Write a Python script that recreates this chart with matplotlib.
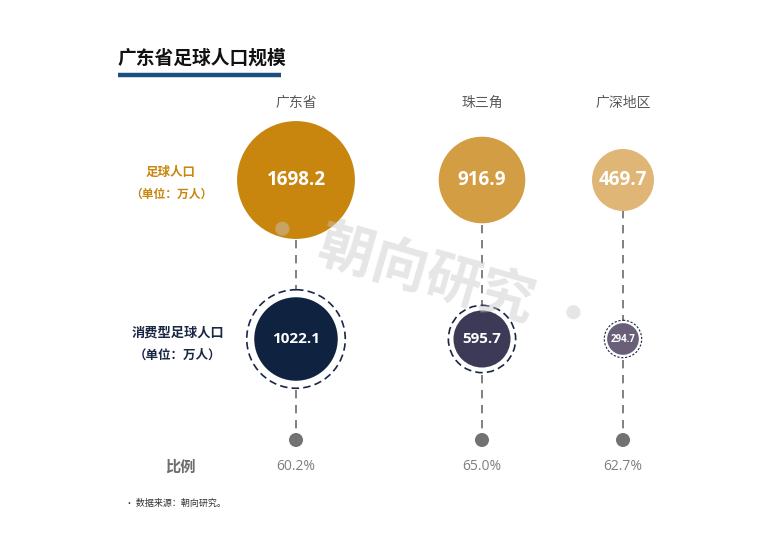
import matplotlib
matplotlib.use('Agg')
import matplotlib.pyplot as plt
from matplotlib.patches import Circle
import numpy as np

plt.rcParams['font.family'] = ['Noto Sans CJK SC', 'DejaVu Sans']

# data
regions = ['广东省', '珠三角', '广深地区']
football_pop = [1698.2, 916.9, 469.7]      # 足球人口 (万人)
consumer_pop = [1022.1, 595.7, 294.7]      # 消费型足球人口 (万人)
ratio = [c / f * 100 for c, f in zip(consumer_pop, football_pop)]

top_colors = ['#c8860f', '#d39e43', '#e0b676']
bot_colors = ['#0f2340', '#3d3a58', '#6a5f79']

# layout (pixel coords, y downward)
col_x = [296, 482, 623]
y_head = 103
y_top = 180
y_bot = 339
y_dot = 440
y_pct = 467

fig = plt.figure(figsize=(7.79, 5.52), dpi=100)
ax = fig.add_axes([0, 0, 1, 1])
ax.set_xlim(0, 779)
ax.set_ylim(552, 0)
ax.axis('off')

# title + underline
ax.text(118, 58, '广东省足球人口规模', fontsize=13.5, fontweight='bold',
        color='#111111', ha='left', va='center')
ax.plot([118, 281], [75, 75], color='#1b4f80', lw=3.2, solid_capstyle='butt')

for i, x in enumerate(col_x):
    r_top = 1.43 * np.sqrt(football_pop[i])
    r_bot = 1.75 * np.sqrt(consumer_pop[i]) - 14.2
    r_ring = 1.18 * r_bot

    # dashed connector
    ax.plot([x, x], [y_top, y_dot], color='#6b6b6b', lw=1.2,
            linestyle=(0, (5, 4)), zorder=1)

    ax.text(x, y_head, regions[i], fontsize=10, color='#595959',
            ha='center', va='center')

    ax.add_patch(Circle((x, y_top), r_top, facecolor=top_colors[i],
                        edgecolor='none', zorder=3))
    ax.text(x, y_top, f'{football_pop[i]:.1f}', family='Open Sans',
            fontsize=13.5, fontweight='bold', color='white',
            ha='center', va='center', zorder=4)

    # ring + inner circle
    ring_ls = (0, (4.5, 2.5)) if r_bot > 20 else (0, (2, 1.5))
    ring_lw = 1.2 if r_bot > 20 else 0.8
    ax.add_patch(Circle((x, y_bot), r_ring, facecolor='white',
                        edgecolor='#1a2744', lw=ring_lw, linestyle=ring_ls,
                        zorder=3))
    ax.add_patch(Circle((x, y_bot), r_bot, facecolor=bot_colors[i],
                        edgecolor='none', zorder=4))
    fs = 11 if r_bot > 20 else 7
    ax.text(x, y_bot, f'{consumer_pop[i]:.1f}', family='Open Sans',
            fontsize=fs, fontweight='bold', color='white',
            ha='center', va='center', zorder=5)

    ax.add_patch(Circle((x, y_dot), 7, facecolor='#727272',
                        edgecolor='none', zorder=3))
    ax.text(x, y_pct, f'{ratio[i]:.1f}%', family='Open Sans', fontsize=10,
            color='#7f7f7f', ha='center', va='center')

# left labels
ax.text(171, 172, '足球人口', fontsize=9, fontweight='bold',
        color='#c8860f', ha='center', va='center')
ax.text(171, 194, '（单位：万人）', fontsize=8.5, fontweight='bold',
        color='#c8860f', ha='center', va='center')
ax.text(178, 333, '消费型足球人口', fontsize=9.5, fontweight='bold',
        color='#1a2744', ha='center', va='center')
ax.text(178, 355, '（单位：万人）', fontsize=9, fontweight='bold',
        color='#1a2744', ha='center', va='center')
ax.text(180, 467, '比例', fontsize=11, fontweight='bold',
        color='#6d6d6d', ha='center', va='center')

# footnote
ax.text(125, 503, '· 数据来源：朝向研究。', fontsize=6.5, color='#333333',
        ha='left', va='center')

# watermark
ax.text(426, 276, '• 朝向研究 •', fontsize=40, fontweight='bold',
        color='#c8c8c8', alpha=0.45, rotation=-16, rotation_mode='anchor',
        ha='center', va='center', zorder=10)

fig.savefig('out.png', dpi=100)
